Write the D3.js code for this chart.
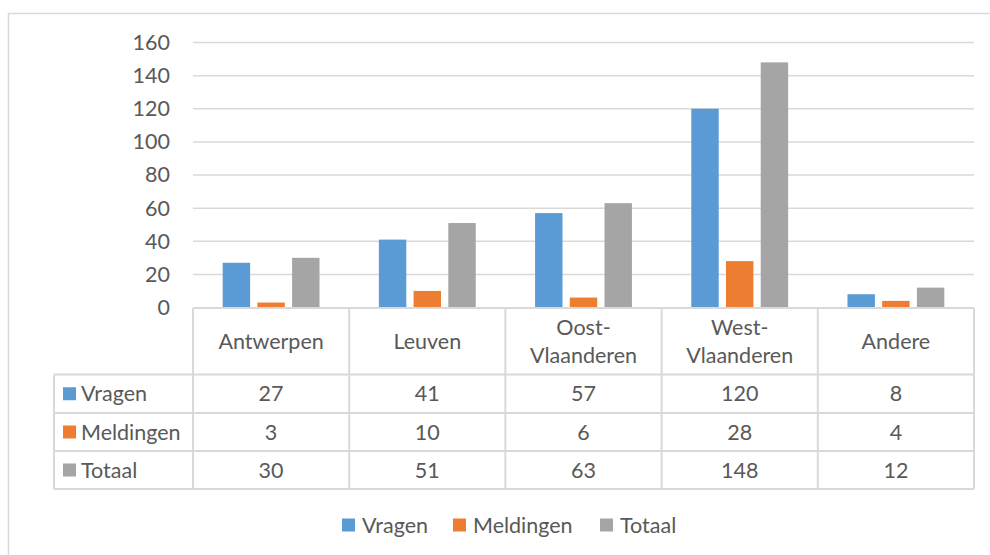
<!DOCTYPE html>
<html lang="nl">
<head>
<meta charset="UTF-8">
<script src="https://cdn.jsdelivr.net/npm/d3@7"></script>
<style>
  body { margin: 0; background: #fff; }
  svg { display: block; }
</style>
</head>
<body>
<div id="container"></div>
<script>
// gegevens
var categories = [["Antwerpen"], ["Leuven"], ["Oost-", "Vlaanderen"], ["West-", "Vlaanderen"], ["Andere"]];
var seriesNames = ["Vragen", "Meldingen", "Totaal"];
var vragen = [27, 41, 57, 120, 8];
var meldingen = [3, 10, 6, 28, 4];
var totaal = [30, 51, 63, 148, 12];
var yTicks = [0, 20, 40, 60, 80, 100, 120, 140, 160];
var colors = ["#5B9BD5", "#ED7D31", "#A5A5A5"];

var series = [vragen, meldingen, totaal];

var width = 990, height = 555;
var plot = {left: 193, right: 974, top: 42.5, bottom: 307.5};
var table = {left: 54, rowTops: [308, 374.5, 413, 451, 489]};
var textColor = "#595959", lineColor = "#D9D9D9";
var font = "Lato, 'Open Sans', sans-serif";
var fs = 21.5;

var svg = d3.select("#container").append("svg")
  .attr("width", width).attr("height", height)
  .attr("font-family", font);

// rand van het grafiekgebied
svg.append("rect")
  .attr("x", 8.5).attr("y", 13.5)
  .attr("width", width).attr("height", height)
  .attr("fill", "none").attr("stroke", lineColor).attr("stroke-width", 1.5);

var x = d3.scaleBand()
  .domain(d3.range(categories.length))
  .range([plot.left, plot.right]);

var inner = d3.scaleBand()
  .domain(d3.range(series.length))
  .range([x.bandwidth() * 0.19, x.bandwidth() * 0.81])
  .paddingInner(0.21);

var y = d3.scaleLinear().domain([0, 160]).range([plot.bottom, plot.top]);

// rasterlijnen
svg.append("g").selectAll("line")
  .data(yTicks.slice(1))
  .join("line")
  .attr("x1", plot.left).attr("x2", plot.right)
  .attr("y1", d => y(d)).attr("y2", d => y(d))
  .attr("stroke", lineColor).attr("stroke-width", 1.5);

// y-as labels
var yAxis = d3.axisLeft(y).tickValues(yTicks).tickSize(0).tickPadding(23);
var ya = svg.append("g").attr("transform", `translate(${plot.left},0)`).call(yAxis);
ya.select(".domain").remove();
ya.selectAll("text")
  .attr("font-family", font).attr("font-size", fs).attr("fill", textColor);

// staven
svg.append("g").selectAll("g")
  .data(series)
  .join("g")
  .attr("fill", (d, i) => colors[i])
  .each(function (vals, si) {
    d3.select(this).selectAll("rect")
      .data(vals)
      .join("rect")
      .attr("x", (d, ci) => x(ci) + inner(si))
      .attr("width", inner.bandwidth())
      .attr("y", d => y(d))
      .attr("height", d => y(0) - y(d));
  });

// gegevenstabel
var t = svg.append("g").attr("stroke", lineColor).attr("stroke-width", 2);
t.append("line")
  .attr("x1", plot.left).attr("x2", plot.right)
  .attr("y1", table.rowTops[0]).attr("y2", table.rowTops[0]);
table.rowTops.slice(1).forEach(function (ry) {
  t.append("line").attr("x1", table.left).attr("x2", plot.right)
    .attr("y1", ry).attr("y2", ry);
});
t.append("line").attr("x1", table.left).attr("x2", table.left)
  .attr("y1", table.rowTops[1]).attr("y2", table.rowTops[4]);
d3.range(categories.length + 1).forEach(function (i) {
  var xx = i < categories.length ? x(i) : plot.right;
  t.append("line").attr("x1", xx).attr("x2", xx)
    .attr("y1", table.rowTops[0]).attr("y2", table.rowTops[4]);
});

var txt = svg.append("g").attr("fill", textColor).attr("font-size", fs);

// categorieën
categories.forEach(function (lines, i) {
  var cx = x(i) + x.bandwidth() / 2;
  var cy = (table.rowTops[0] + table.rowTops[1]) / 2;
  var lh = 28;
  lines.forEach(function (ln, k) {
    txt.append("text")
      .attr("x", cx)
      .attr("y", cy + (k - (lines.length - 1) / 2) * lh)
      .attr("dy", "0.35em")
      .attr("text-anchor", "middle")
      .text(ln);
  });
});

// rijen met waarden
series.forEach(function (vals, si) {
  var cy = (table.rowTops[si + 1] + table.rowTops[si + 2]) / 2;
  svg.append("rect")
    .attr("x", 63).attr("y", cy - 6.5)
    .attr("width", 13).attr("height", 13)
    .attr("fill", colors[si]);
  txt.append("text")
    .attr("x", 81).attr("y", cy).attr("dy", "0.35em")
    .text(seriesNames[si]);
  vals.forEach(function (v, ci) {
    txt.append("text")
      .attr("x", x(ci) + x.bandwidth() / 2)
      .attr("y", cy).attr("dy", "0.35em")
      .attr("text-anchor", "middle")
      .text(v);
  });
});

// legenda
var legendX = [342, 453, 600];
var legend = svg.append("g").attr("transform", "translate(0,525)");
seriesNames.forEach(function (name, i) {
  legend.append("rect")
    .attr("x", legendX[i]).attr("y", -6.5)
    .attr("width", 13).attr("height", 13)
    .attr("fill", colors[i]);
  legend.append("text")
    .attr("x", legendX[i] + 20).attr("dy", "0.35em")
    .attr("fill", textColor).attr("font-size", fs)
    .text(name);
});
</script>
</body>
</html>
